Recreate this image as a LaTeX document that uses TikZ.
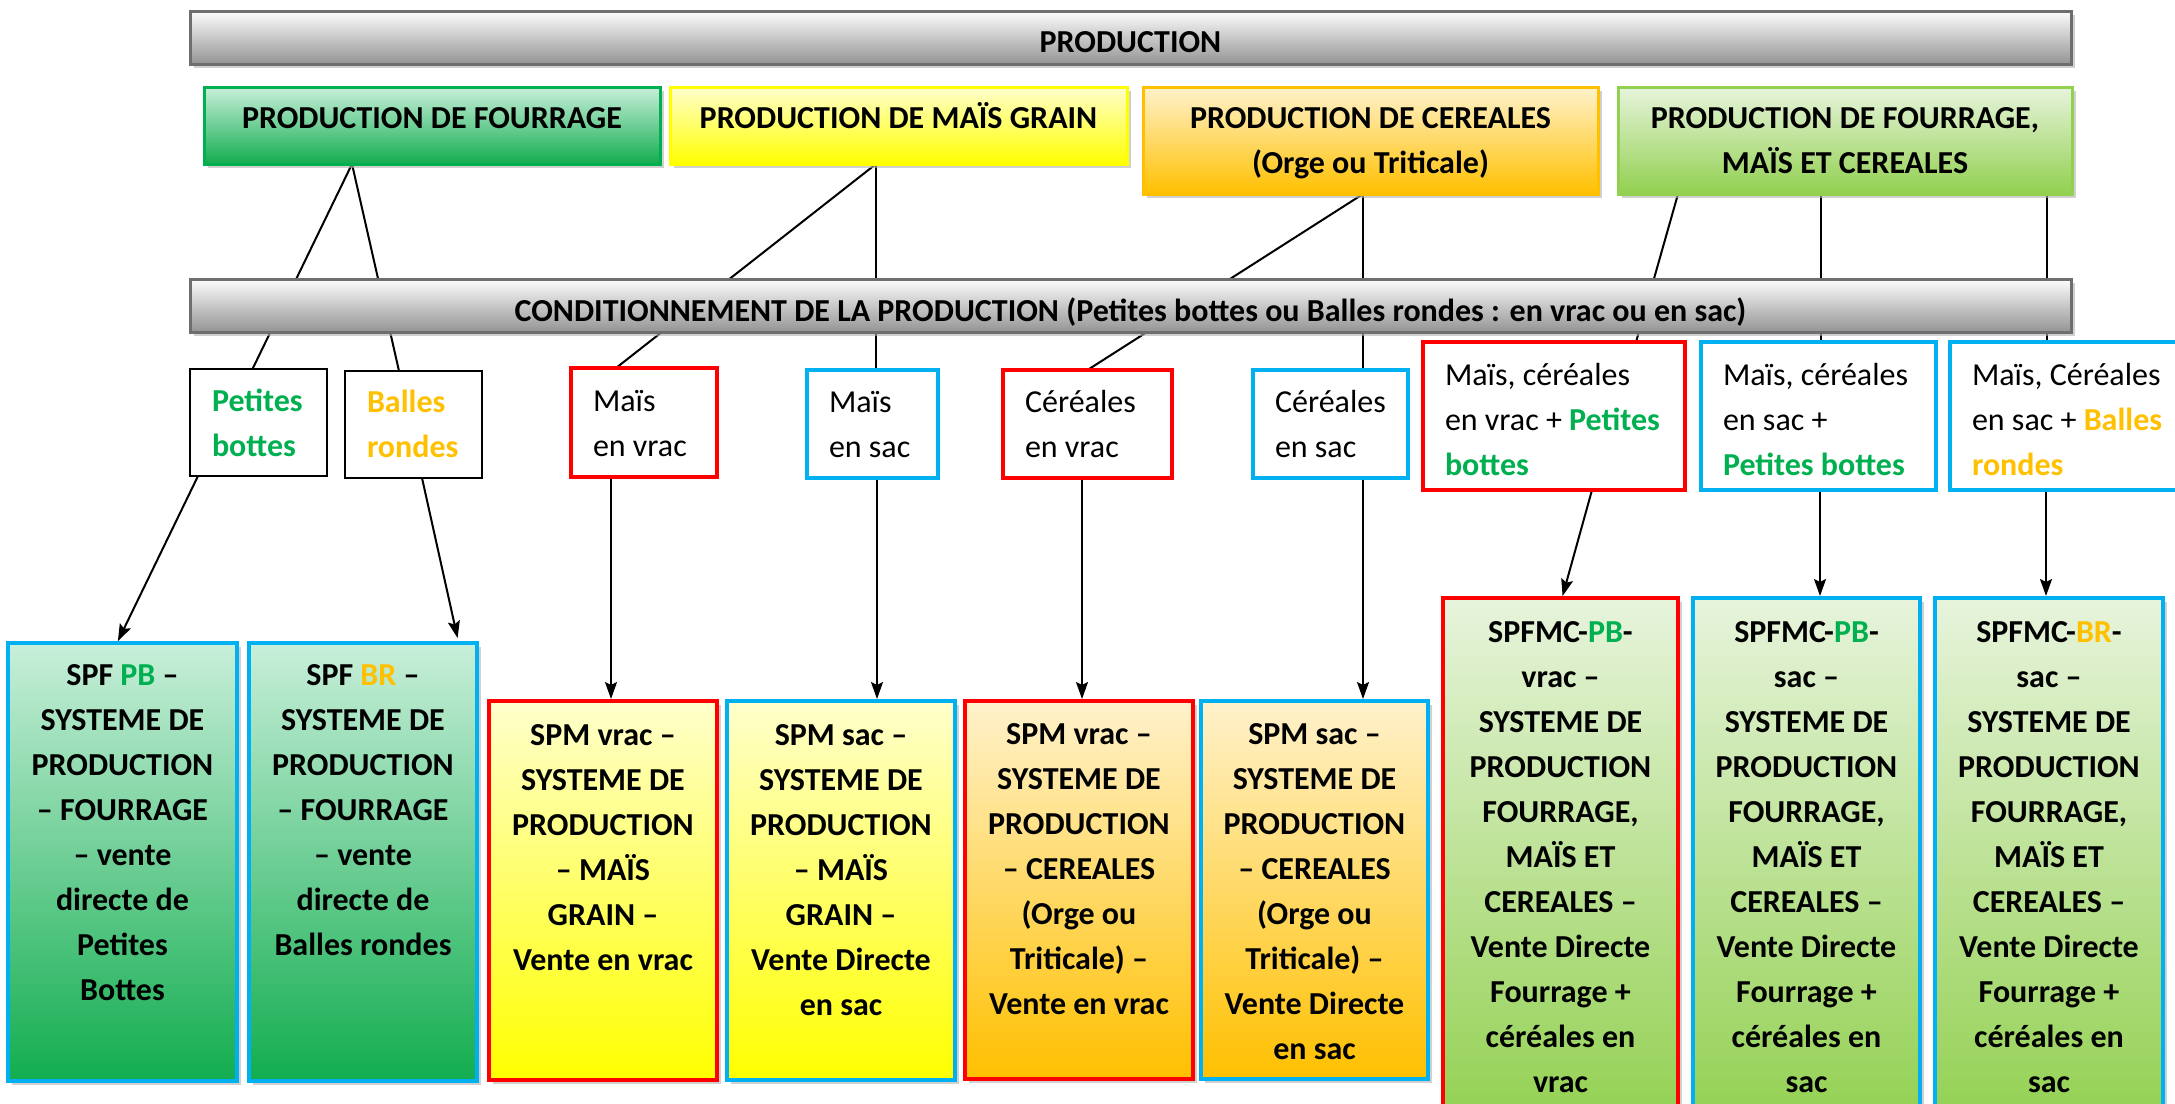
\documentclass[tikz,border=0pt]{standalone}
\usepackage{fontspec}
\setmainfont{Carlito}
\usetikzlibrary{shadows,arrows.meta,backgrounds,calc}
\definecolor{barB}{HTML}{6E6E6E}
\definecolor{fB}{HTML}{00B050}
\definecolor{fT}{HTML}{C8EFDA}
\definecolor{fBot}{HTML}{12AD4F}
\definecolor{yT}{HTML}{FFFFCC}
\definecolor{yBot}{HTML}{FFFF00}
\definecolor{oT}{HTML}{FFF2CC}
\definecolor{oBot}{HTML}{FFC000}
\definecolor{lT}{HTML}{E7F4DC}
\definecolor{lBot}{HTML}{92D050}
\definecolor{redB}{HTML}{FF0000}
\definecolor{blueB}{HTML}{00B0F0}
\definecolor{tgreen}{HTML}{00B050}
\definecolor{tgold}{HTML}{FFC000}
\tikzset{
  boxbase/.style={rectangle, inner sep=0pt, outer sep=0pt, anchor=north west,
    drop shadow={shadow xshift=4pt, shadow yshift=-4pt, fill=black!30, opacity=0.6}},
  barbox/.style={boxbase, draw=barB, line width=3pt, top color=black!1, middle color=black!18, bottom color=black!42},
  fbox/.style={boxbase, draw=fB, line width=3pt, top color=fT, bottom color=fBot},
  ybox/.style={boxbase, draw=yBot, line width=3pt, top color=yT, bottom color=yBot},
  obox/.style={boxbase, draw=oBot, line width=3pt, top color=oT, bottom color=oBot},
  lbox/.style={boxbase, draw=lBot, line width=3pt, top color=lT, bottom color=lBot},
  kbox/.style={rectangle, inner sep=0pt, outer sep=0pt, anchor=north west, draw=black, line width=2.5pt, fill=white},
  rbox/.style={rectangle, inner sep=0pt, outer sep=0pt, anchor=north west, draw=redB, line width=4pt, fill=white},
  bbox/.style={rectangle, inner sep=0pt, outer sep=0pt, anchor=north west, draw=blueB, line width=4pt, fill=white},
  txt/.style={inner sep=0pt, outer sep=0pt, font=\fontsize{32}{45}\selectfont\bfseries, align=center, anchor=north},
  txtl/.style={inner sep=0pt, outer sep=0pt, font=\fontsize{32}{45}\selectfont, align=left, anchor=north west},
  conn/.style={draw=black, line width=2pt},
  arr/.style={draw=black, line width=2pt, -{Stealth[length=17pt,width=12pt,inset=3pt]}, shorten >=2pt}
}
\begin{document}
\begin{tikzpicture}[x=1pt,y=-1pt]
\useasboundingbox (0,0) rectangle (2175,1103);
\clip (0,0) rectangle (2175,1103);
% bars
\node[barbox, minimum width=1881pt, minimum height=53pt] (prod) at (190,11) {};
\node[txt] (prodT) at (1130.5,20.5) {\strut PRODUCTION};
\node[barbox, minimum width=1881pt, minimum height=53pt] (cond) at (190,279) {};
\node[txt] (condT) at (1130.5,289.5) {\strut CONDITIONNEMENT DE LA PRODUCTION (Petites bottes ou Balles rondes : en vrac ou en sac)};
% row 2
\node[fbox, minimum width=456pt, minimum height=77pt] (f) at (204,87) {};
\node[txt] (fT) at (432,96.5) {\strut PRODUCTION DE FOURRAGE};
\node[ybox, minimum width=457pt, minimum height=77pt] (m) at (670,87) {};
\node[txt] (mT) at (898.5,96.5) {\strut PRODUCTION DE MAÏS GRAIN};
\node[obox, minimum width=455pt, minimum height=107pt] (c) at (1143,87) {};
\node[txt] (cT) at (1370.5,96.5) {\strut PRODUCTION DE CEREALES\\(Orge ou Triticale)};
\node[lbox, minimum width=454pt, minimum height=107pt] (fmc) at (1618,87) {};
\node[txt] (fmcT) at (1845,96.5) {\strut PRODUCTION DE FOURRAGE,\\MAÏS ET CEREALES};
% row 3
\node[kbox, minimum width=137pt, minimum height=107pt] (pb) at (190,369) {};
\node[txtl] (pbT) at (212,379.5) {\strut\textbf{\textcolor{tgreen}{Petites}}\\\textbf{\textcolor{tgreen}{bottes}}};
\node[kbox, minimum width=137pt, minimum height=107pt] (br) at (345,371) {};
\node[txtl] (brT) at (367,381) {\strut\textbf{\textcolor{tgold}{Balles}}\\\textbf{\textcolor{tgold}{rondes}}};
\node[rbox, minimum width=146pt, minimum height=109pt] (mv) at (571,368) {};
\node[txtl] (mvT) at (593,379.5) {\strut Maïs\\en vrac};
\node[bbox, minimum width=131pt, minimum height=108pt] (ms) at (807,370) {};
\node[txtl] (msT) at (829,381) {\strut Maïs\\en sac};
\node[rbox, minimum width=169pt, minimum height=108pt] (cv) at (1003,370) {};
\node[txtl] (cvT) at (1025,381) {\strut Céréales\\en vrac};
\node[bbox, minimum width=155pt, minimum height=108pt] (cs) at (1253,370) {};
\node[txtl] (csT) at (1275,381) {\strut Céréales\\en sac};
\node[rbox, minimum width=262pt, minimum height=148pt] (x1) at (1423,342) {};
\node[txtl] (x1T) at (1445,353.5) {\strut Maïs, céréales\\en vrac + \textbf{\textcolor{tgreen}{Petites}}\\\textbf{\textcolor{tgreen}{bottes}}};
\node[bbox, minimum width=235pt, minimum height=148pt] (x2) at (1701,342) {};
\node[txtl] (x2T) at (1723,353.5) {\strut Maïs, céréales\\en sac +\\\textbf{\textcolor{tgreen}{Petites bottes}}};
\node[bbox, minimum width=235pt, minimum height=148pt] (x3) at (1950,342) {};
\node[txtl] (x3T) at (1972,353.5) {\strut Maïs, Céréales\\en sac + \textbf{\textcolor{tgold}{Balles}}\\\textbf{\textcolor{tgold}{rondes}}};
% row 4
\node[fbox, draw=blueB, line width=4pt, minimum width=229pt, minimum height=438pt] (s1) at (8,643) {};
\node[txt] (s1T) at (122.5,653.5) {\strut SPF \textcolor{tgreen}{PB} –\\SYSTEME DE\\PRODUCTION\\– FOURRAGE\\– vente\\directe de\\Petites\\Bottes};
\node[fbox, draw=blueB, line width=4pt, minimum width=228pt, minimum height=438pt] (s2) at (249,643) {};
\node[txt] (s2T) at (363,653.5) {\strut SPF \textcolor{tgold}{BR} –\\SYSTEME DE\\PRODUCTION\\– FOURRAGE\\– vente\\directe de\\Balles rondes};
\node[ybox, draw=redB, line width=4pt, minimum width=228pt, minimum height=379pt] (s3) at (489,701) {};
\node[txt] (s3T) at (603,713.5) {\strut SPM vrac –\\SYSTEME DE\\PRODUCTION\\– MAÏS\\GRAIN –\\Vente en vrac};
\node[ybox, draw=blueB, line width=4pt, minimum width=228pt, minimum height=379pt] (s4) at (727,701) {};
\node[txt] (s4T) at (841,713.5) {\strut SPM sac –\\SYSTEME DE\\PRODUCTION\\– MAÏS\\GRAIN –\\Vente Directe\\en sac};
\node[obox, draw=redB, line width=4pt, minimum width=228pt, minimum height=378pt] (s5) at (965,701) {};
\node[txt] (s5T) at (1079,712.5) {\strut SPM vrac –\\SYSTEME DE\\PRODUCTION\\– CEREALES\\(Orge ou\\Triticale) –\\Vente en vrac};
\node[obox, draw=blueB, line width=4pt, minimum width=227pt, minimum height=378pt] (s6) at (1201,701) {};
\node[txt] (s6T) at (1314.5,712.5) {\strut SPM sac –\\SYSTEME DE\\PRODUCTION\\– CEREALES\\(Orge ou\\Triticale) –\\Vente Directe\\en sac};
\node[lbox, draw=redB, line width=4pt, minimum width=235pt, minimum height=530pt] (s7) at (1443,598) {};
\node[txt] (s7T) at (1560.5,610.5) {\strut SPFMC-\textcolor{tgreen}{PB}-\\vrac –\\SYSTEME DE\\PRODUCTION\\FOURRAGE,\\MAÏS ET\\CEREALES –\\Vente Directe\\Fourrage +\\céréales en\\vrac};
\node[lbox, draw=blueB, line width=4pt, minimum width=227pt, minimum height=530pt] (s8) at (1693,598) {};
\node[txt] (s8T) at (1806.5,610.5) {\strut SPFMC-\textcolor{tgreen}{PB}-\\sac –\\SYSTEME DE\\PRODUCTION\\FOURRAGE,\\MAÏS ET\\CEREALES –\\Vente Directe\\Fourrage +\\céréales en\\sac};
\node[lbox, draw=blueB, line width=4pt, minimum width=228pt, minimum height=530pt] (s9) at (1935,598) {};
\node[txt] (s9T) at (2049,610.5) {\strut SPFMC-\textcolor{tgold}{BR}-\\sac –\\SYSTEME DE\\PRODUCTION\\FOURRAGE,\\MAÏS ET\\CEREALES –\\Vente Directe\\Fourrage +\\céréales en\\sac};
% connector anchor points
\coordinate (fA) at ([xshift=-80pt]f.south);
\coordinate (mA) at ([xshift=-22.5pt]m.south);
\coordinate (cA) at ([xshift=-7.5pt]c.south);
\coordinate (k1) at ([xshift=-167pt]fmc.south);
\coordinate (k2) at ([xshift=-24.5pt]fmc.south);
\coordinate (k3) at ([xshift=202pt]fmc.south);
\coordinate (mvB) at ([xshift=-33pt]mv.south);
\coordinate (msB) at ([xshift=4.5pt]ms.south);
\coordinate (cvB) at ([xshift=-5.5pt]cv.south);
\coordinate (csB) at ([xshift=32.5pt]cs.south);
\coordinate (x2B) at ([xshift=1.5pt]x2.south);
\coordinate (x3B) at ([xshift=-21.5pt]x3.south);
\begin{pgfonlayer}{background}
\fill[white] (0,0) rectangle (2175,1103);
\draw[conn] (fA) -- ([xshift=-6pt]pb.north);
\draw[conn] (fA) -- ([xshift=-14.5pt]br.north);
\draw[conn] (mA) -- ([xshift=-28pt]mv.north);
\draw[conn] (mA) -- (mA |- ms.north);
\draw[conn] (cA) -- (cv.north);
\draw[conn] (cA) -- (cA |- cs.north);
\draw[conn] (k1) -- ([xshift=82pt]x1.north);
\draw[conn] (k2) -- (k2 |- x2.north);
\draw[conn] (k3) -- (k3 |- x3.north);
\draw[arr] ([xshift=-60.5pt]pb.south) -- ([xshift=-5.5pt]s1.north);
\draw[arr] ([xshift=8.5pt]br.south) -- ([xshift=95pt,yshift=3pt]s2.north);
\draw[arr] (mvB) -- (mvB |- s3.north);
\draw[arr] (msB) -- (msB |- s4.north);
\draw[arr] (cvB) -- (cvB |- s5.north);
\draw[arr] (csB) -- (csB |- s6.north);
\draw[arr] ([xshift=38pt]x1.south) -- ([xshift=1.5pt]s7.north);
\draw[arr] (x2B) -- (x2B |- s8.north);
\draw[arr] (x3B) -- (x3B |- s9.north);
\end{pgfonlayer}
\end{tikzpicture}
\end{document}
